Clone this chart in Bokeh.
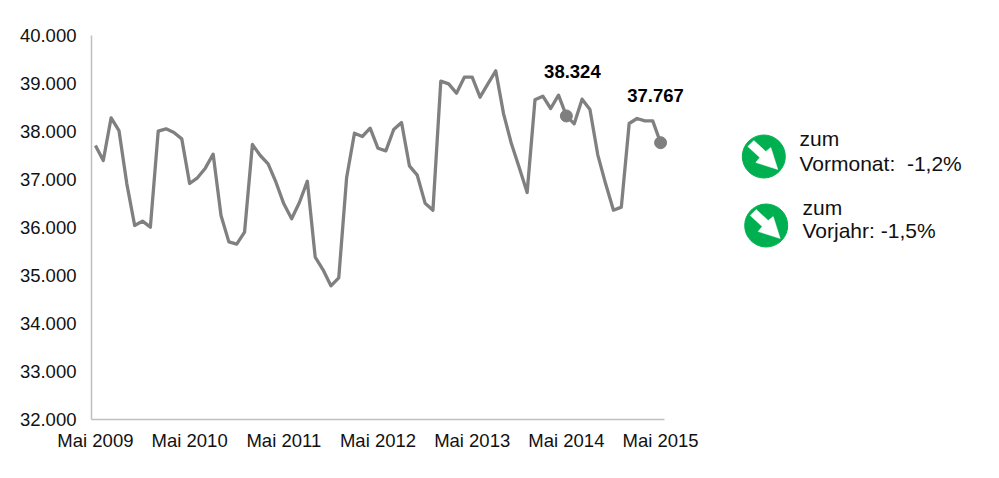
from bokeh.plotting import figure
from bokeh.embed import file_html
from bokeh.resources import INLINE
from bokeh.models import FixedTicker, ColumnDataSource
from bokeh.core.properties import value

employment = [37708, 37396, 38285, 38020, 36910, 36042, 36132, 36007, 38007, 38056, 37979, 37847,
              36917, 37035, 37236, 37528, 36250, 35701, 35653, 35903, 37729, 37500, 37326, 36944,
              36493, 36181, 36527, 36965, 35382, 35118, 34785, 34951, 37035, 37965, 37896, 38069,
              37650, 37597, 38042, 38188, 37285, 37090, 36507, 36361, 39049, 38993, 38799, 39132,
              39132, 38715, 38993, 39264, 38368, 37743, 37243, 36729, 38660, 38736, 38479, 38757,
              38324, 38160, 38674, 38458, 37514, 36910, 36361, 36424, 38167, 38271, 38222, 38222,
              37767]
x_labels = ["Mai 2009", "Mai 2010", "Mai 2011", "Mai 2012", "Mai 2013", "Mai 2014", "Mai 2015"]
y_ticks = [32000, 33000, 34000, 35000, 36000, 37000, 38000, 39000, 40000]
y_labels = ["32.000", "33.000", "34.000", "35.000", "36.000", "37.000", "38.000", "39.000", "40.000"]
highlight_idx = [60, 72]
highlight_labels = ["38.324", "37.767"]
notes = [("zum", "Vormonat:\u00a0 -1,2%"), ("zum", "Vorjahr: -1,5%")]

FONT = value("Liberation Sans")
L, T, R, B = 92, 35, 991, 419       # frame edges in page pixels
MONTH = 573 / 73
YPX = 384 / 8000

def fx(px):
    return (px - L) / MONTH - 0.5

def fy(py):
    return 40000 - (py - T) / YPX

p = figure(width=991, height=470, output_backend="svg", toolbar_location=None,
           x_range=(-0.5, fx(R)), y_range=(32000, 40000),
           frame_width=R - L, frame_height=B - T,
           min_border_left=91, min_border_right=0, min_border_top=35, min_border_bottom=51)
p.outline_line_color = None
p.xgrid.visible = False
p.ygrid.visible = False
p.background_fill_color = "white"

xa, ya = p.xaxis[0], p.yaxis[0]
xa.ticker = FixedTicker(ticks=[i * 12 for i in range(len(x_labels))])
xa.major_label_overrides = {i * 12: s for i, s in enumerate(x_labels)}
xa.bounds = (-0.5, 72.5)
ya.ticker = FixedTicker(ticks=y_ticks)
ya.major_label_overrides = dict(zip(y_ticks, y_labels))
for ax in (xa, ya):
    ax.axis_line_color = "#bfbfbf"
    ax.axis_line_width = 1.5
    ax.major_tick_line_color = None
    ax.minor_tick_line_color = None
    ax.major_label_text_font = "Liberation Sans"
    ax.major_label_text_font_size = "18.5px"
    ax.major_label_text_color = "#111111"
xa.major_label_standoff = 4
ya.major_label_standoff = 9

src = ColumnDataSource(dict(x=list(range(len(employment))), y=employment))
p.line("x", "y", source=src, line_color="#808080", line_width=3.3, line_join="round")

hx = highlight_idx
hy = [employment[i] for i in highlight_idx]
p.scatter(hx, hy, size=12, marker="circle", fill_color="#7f7f7f", line_color="#7f7f7f")
p.text(hx, hy, text=highlight_labels, x_offset=[6, -5], y_offset=[-44, -47],
       text_font=FONT, text_font_style="bold", text_font_size="18.5px", text_color="black",
       text_align="center", text_baseline="middle")

# icons
centers = [(764.3, 156), (766.7, 225)]
arrow = [(-16, -10), (-10, -16), (2, -5), (7, -9), (14, 13), (-8, 6), (-4, 1)]
p.scatter([fx(c[0]) for c in centers], [fy(c[1]) for c in centers], size=43, marker="circle",
          fill_color="#00b050", line_color="#00b050")
p.patches([[fx(c[0] + a[0]) for a in arrow] for c in centers],
          [[fy(c[1] + a[1]) for a in arrow] for c in centers],
          fill_color="white", line_color="white", line_width=0.5)

note_x = [800, 800, 803, 803]
note_y = [138, 163, 207, 230]
note_t = [notes[0][0], notes[0][1], notes[1][0], notes[1][1]]
p.text([fx(v) for v in note_x], [fy(v) for v in note_y], text=note_t,
       text_font=FONT, text_font_size="21px", text_color="#111111",
       text_align="left", text_baseline="middle")

open("out.html", "w").write(file_html(p, INLINE))
